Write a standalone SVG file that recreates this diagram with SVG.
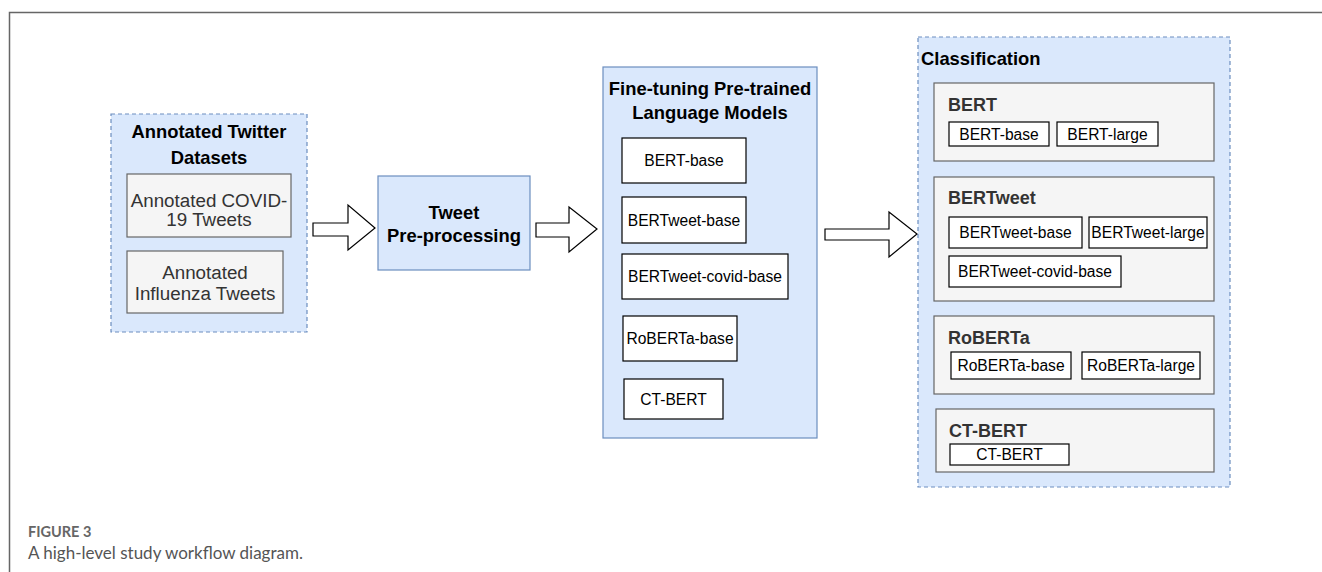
<svg xmlns="http://www.w3.org/2000/svg" width="1322" height="572" viewBox="0 0 1322 572">
<style>
.frame{fill:none;stroke:#666;stroke-width:1.5}
.dash{fill:#dae8fc;stroke:#6c8ebf;stroke-width:1.2;stroke-dasharray:4 3}
.solid{fill:#dae8fc;stroke:#6c8ebf;stroke-width:1.2}
.grey{fill:#f5f5f5;stroke:#666;stroke-width:1.2}
.white{fill:#fff;stroke:#000;stroke-width:1.2}
.arrow{fill:#fff;stroke:#000;stroke-width:1.2;stroke-linejoin:miter}
text{font-family:"Liberation Sans",Arial,sans-serif;fill:#000}
.t{font-size:15.6px;text-anchor:middle;dominant-baseline:central}
.tg{font-size:18.8px;text-anchor:middle;dominant-baseline:central;fill:#333}
.b{font-size:18.4px;font-weight:bold;text-anchor:middle;dominant-baseline:central}
.gh{font-size:18px;font-weight:bold;fill:#333;dominant-baseline:central}
.cap1{font-family:Lato,"Open Sans",sans-serif;font-size:14.5px;font-weight:bold;fill:#666}
.cap2{font-family:Lato,"Open Sans",sans-serif;font-size:17px;fill:#555}
</style>
<path class="frame" d="M1322 12.5 H9.5 V572"/>

<g id="datasets">
<rect class="dash" x="111" y="114" width="196" height="218"/>
<text class="b" x="209" y="131">Annotated Twitter</text>
<text class="b" x="209" y="157">Datasets</text>
</g>
<g id="covid-tweets">
<rect class="grey" x="127" y="174" width="164" height="63"/>
<text class="tg" x="209" y="200">Annotated COVID-</text>
<text class="tg" x="209" y="219">19 Tweets</text>
</g>
<g id="influenza-tweets">
<rect class="grey" x="127" y="251" width="156" height="62"/>
<text class="tg" x="205" y="272">Annotated</text>
<text class="tg" x="205" y="293">Influenza Tweets</text>
</g>

<g id="preprocessing">
<rect class="solid" x="378" y="176" width="152" height="94"/>
<text class="b" x="454" y="212">Tweet</text>
<text class="b" x="454" y="235">Pre-processing</text>
</g>

<g id="finetuning">
<rect class="solid" x="603" y="67" width="214" height="371"/>
<text class="b" x="710" y="88">Fine-tuning Pre-trained</text>
<text class="b" x="710" y="112">Language Models</text>
</g>
<g id="ft-bert-base"><rect class="white" x="622" y="138" width="124" height="45"/><text class="t" x="684" y="160.5">BERT-base</text></g>
<g id="ft-bertweet-base"><rect class="white" x="622" y="197" width="124" height="46"/><text class="t" x="684" y="220">BERTweet-base</text></g>
<g id="ft-bertweet-covid-base"><rect class="white" x="622" y="254" width="166" height="45"/><text class="t" x="705" y="276.5">BERTweet-covid-base</text></g>
<g id="ft-roberta-base"><rect class="white" x="623" y="316" width="114" height="45"/><text class="t" x="680" y="338.5">RoBERTa-base</text></g>
<g id="ft-ct-bert"><rect class="white" x="624" y="379" width="99" height="40"/><text class="t" x="673.5" y="399">CT-BERT</text></g>

<g id="classification">
<rect class="dash" x="918" y="37" width="312" height="450"/>
<text x="921" y="58" style="font-size:18.4px;font-weight:bold;dominant-baseline:central">Classification</text>
</g>
<g id="cls-bert">
<rect class="grey" x="934" y="83" width="280" height="78"/>
<text class="gh" x="948" y="105">BERT</text>
<rect class="white" x="949" y="122" width="100" height="24"/><text class="t" x="999" y="134">BERT-base</text>
<rect class="white" x="1057" y="122" width="101" height="24"/><text class="t" x="1107.5" y="134">BERT-large</text>
</g>
<g id="cls-bertweet">
<rect class="grey" x="934" y="177" width="280" height="124"/>
<text class="gh" x="948" y="198">BERTweet</text>
<rect class="white" x="949" y="217" width="133" height="31"/><text class="t" x="1015.5" y="232.5">BERTweet-base</text>
<rect class="white" x="1089" y="217" width="118" height="31"/><text class="t" x="1148" y="232.5">BERTweet-large</text>
<rect class="white" x="949" y="256" width="172" height="31"/><text class="t" x="1035" y="271.5">BERTweet-covid-base</text>
</g>
<g id="cls-roberta">
<rect class="grey" x="934" y="316" width="280" height="78"/>
<text class="gh" x="948" y="338">RoBERTa</text>
<rect class="white" x="951" y="352" width="120" height="27"/><text class="t" x="1011" y="365.5">RoBERTa-base</text>
<rect class="white" x="1082" y="352" width="118" height="27"/><text class="t" x="1141" y="365.5">RoBERTa-large</text>
</g>
<g id="cls-ct-bert">
<rect class="grey" x="936" y="409" width="278" height="63"/>
<text class="gh" x="949" y="431">CT-BERT</text>
<rect class="white" x="950" y="444" width="119" height="21"/><text class="t" x="1009.5" y="454.5">CT-BERT</text>
</g>

<g id="connectors">
<path class="arrow" d="M313 223 H348 V205 L375 228 L348 250 V236 H313 Z"/>
<path class="arrow" d="M536 223 H569 V207 L597 229 L569 252 V237 H536 Z"/>
<path class="arrow" d="M825 229 H889 V212 L917 234 L889 257 V240 H825 Z"/>
</g>

<g id="caption">
<text class="cap1" x="28" y="537">FIGURE 3</text>
<text class="cap2" x="28" y="559">A high-level study workflow diagram.</text>
</g>
</svg>
